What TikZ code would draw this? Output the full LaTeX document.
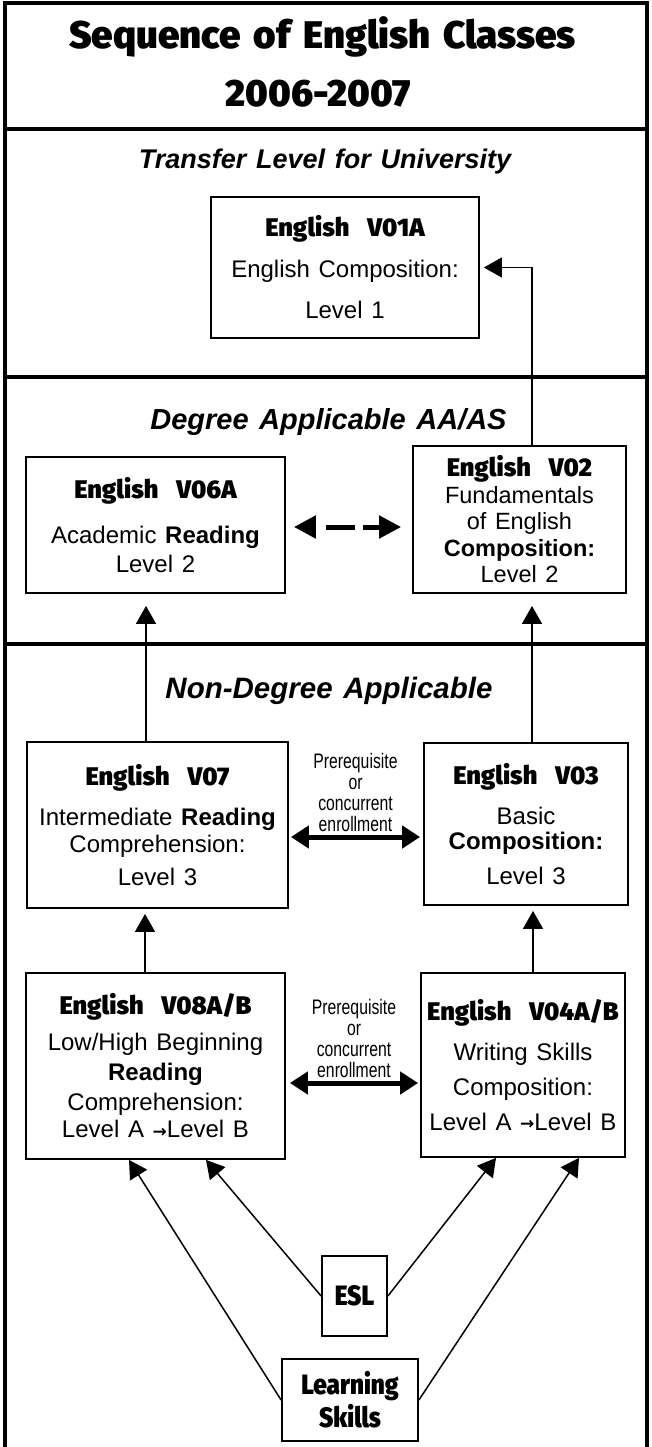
\documentclass[tikz,border=0pt]{standalone}
\usepackage{fontspec}
\setmainfont{Liberation Sans}[WordSpace=1.3]
\newfontfamily\titlefont{Fira Sans Black}
\newfontfamily\heavyfont{Fira Sans Black}[WordSpace=3.2]
\newfontfamily\heavynarrowfont{Fira Sans Black}[FakeStretch=0.87]
\newfontfamily\narrowfont{Liberation Sans}[FakeStretch=0.75]
\newfontfamily\symbolfont{DejaVu Sans Bold}
\usetikzlibrary{arrows.meta}

\newcommand{\course}[1]{{\heavyfont\fontsize{25.5}{25.5}\selectfont #1}}
\newcommand{\toarrow}{\raisebox{0.5pt}{\symbolfont\fontsize{17}{17}\selectfont →}}
\newcommand{\titlegap}{\spaceskip 13pt\relax}

\begin{document}
\begin{tikzpicture}[x=1pt, y=-1pt,
    frame/.style={line width=4pt, line join=miter},
    band/.style={line width=4pt},
    heading/.style={anchor=base, font=\bfseries\itshape},
    box/.style={draw, line width=1.8pt, inner sep=0pt, align=center},
    arr/.style={-{Triangle[width=20pt,length=18pt]}, line width=1.5pt},
    prereq/.style={{Triangle[width=22pt,length=18pt]}-{Triangle[width=22pt,length=18pt]}, line width=5pt},
    either/.style={{Triangle[width=22pt,length=22pt]}-{Triangle[width=22pt,length=22pt]}, line width=5pt,
        dash pattern=on 17pt off 8pt on 29pt off 100pt},
    note/.style={align=center, inner sep=1pt, font=\narrowfont\fontsize{21}{21}\selectfont}
]
    \useasboundingbox (0,0) rectangle (651,1447);

    % Frame and bands
    \draw[frame] (5,1452) -- (5,3) -- (647,3) -- (647,1452);
    \draw[band] (5,129) -- (647,129);
    \draw[band] (5,377) -- (647,377);
    \draw[band] (5,644) -- (647,644);

    % Title
    \node[anchor=base, font=\titlefont\fontsize{38.5}{38.5}\selectfont\titlegap] (title) at (322.5,49) {Sequence of English Classes};
    \node[anchor=base, font=\titlefont\fontsize{38}{38}\selectfont] (years) at (318.5,107) {2006-2007};

    % Headings
    \node[heading, font=\bfseries\itshape\fontsize{27}{27}\selectfont] (transfer) at (325,168.5) {Transfer Level for University};
    \node[heading, font=\bfseries\itshape\fontsize{29}{29}\selectfont] (degree) at (328.5,429.5) {Degree Applicable AA/AS};
    \node[heading, font=\bfseries\itshape\fontsize{29.5}{29.5}\selectfont] (nondegree) at (329,698) {Non-Degree Applicable};

    % Courses
    \node[box, minimum width=268pt, minimum height=141pt, font=\fontsize{24}{41}\selectfont] (v01a) at (345,267.5)
        {\course{English V01A}\\English Composition:\\Level 1};
    \node[box, minimum width=259pt, minimum height=136pt, font=\fontsize{24}{29}\selectfont] (v06a) at (155.5,525)
        {\course{English V06A}\\[16pt]Academic \textbf{Reading}\\Level 2};
    \node[box, minimum width=213pt, minimum height=147pt, font=\fontsize{23.5}{26.5}\selectfont] (v02) at (519.5,519.5)
        {\course{English V02}\\Fundamentals\\of English\\\textbf{Composition:}\\Level 2};
    \node[box, minimum width=261pt, minimum height=166pt, font=\fontsize{24}{27}\selectfont] (v07) at (157.5,825)
        {\course{English V07}\\[13pt]Intermediate \textbf{Reading}\\Comprehension:\\[6pt]Level 3};
    \node[box, minimum width=204pt, minimum height=162pt, font=\fontsize{24}{27}\selectfont] (v03) at (526,824)
        {\course{English V03}\\[13pt]Basic\\[-2pt]\textbf{Composition:}\\[8pt]Level 3};
    \node[box, minimum width=259pt, minimum height=186pt, font=\fontsize{24}{30}\selectfont] (v08) at (155.5,1066)
        {\course{English V08A/B}\\[6pt]Low/High Beginning\\\textbf{Reading}\\Comprehension:\\[-3pt]Level A \toarrow Level B};
    \node[box, minimum width=204pt, minimum height=184pt, font=\fontsize{24}{35}\selectfont] (v04) at (523,1065)
        {\course{English V04A/B}\\[5pt]Writing Skills\\Composition:\\Level A \toarrow Level B};
    \node[box, minimum width=65pt, minimum height=80pt, font=\heavynarrowfont\fontsize{28}{28}\selectfont] (esl) at (354.5,1296) {ESL};
    \node[box, minimum width=136pt, minimum height=82pt, font=\heavynarrowfont\fontsize{28}{33}\selectfont] (lskills) at (350,1400) {Learning\\Skills};

    % Edges
    \draw[arr, shorten >=4pt] ([xshift=12.5pt]v02.north) |- (v01a.east);
    \draw[arr, shorten >=12pt] ([xshift=-11.5pt]v07.north) -- ([xshift=-11.5pt]v07.north |- v06a.south);
    \draw[arr, shorten >=12pt] ([xshift=6pt]v03.north) -- ([xshift=6pt]v03.north |- v02.south);
    \draw[arr, shorten >=5pt] ([xshift=-10.5pt]v08.north) -- ([xshift=-10.5pt]v08.north |- v07.south);
    \draw[arr, shorten >=5pt] ([xshift=10pt]v04.north) -- ([xshift=10pt]v04.north |- v03.south);
    \draw[either] ([xshift=-11pt,yshift=-2pt]v06a.east -| v02.west) -- ([xshift=8pt,yshift=-2pt]v06a.east);
    \draw[prereq] ([xshift=2pt,yshift=-12pt]v07.east) -- ([xshift=-3pt,yshift=-12pt]v07.east -| v03.west)
        node[midway, above=2pt, note] (noteA) {Prerequisite\\or\\concurrent\\enrollment};
    \draw[prereq] ([xshift=4pt,yshift=-17pt]v08.east) -- ([xshift=-2pt,yshift=-17pt]v08.east -| v04.west)
        node[midway, above=2pt, note] (noteB) {Prerequisite\\or\\concurrent\\enrollment};

    % Entry points
    \draw[arr] (lskills.west) -- ([xshift=-26.5pt]v08.south);
    \draw[arr] (esl.west) -- ([xshift=50.5pt]v08.south);
    \draw[arr] (esl.east) -- ([xshift=-27pt]v04.south);
    \draw[arr] (lskills.east) -- ([xshift=56pt]v04.south);
\end{tikzpicture}
\end{document}
